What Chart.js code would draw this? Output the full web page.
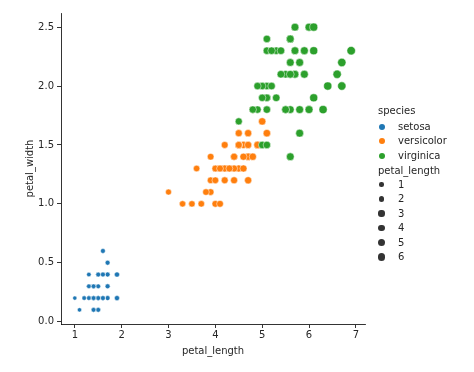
<!DOCTYPE html>
<html>
<head>
<meta charset="utf-8">
<script src="https://cdn.jsdelivr.net/npm/chart.js@4/dist/chart.umd.min.js"></script>
<style>
    body { margin: 0; background: #fff; }
    #wrap { position: relative; width: 474px; height: 372px; font-family: 'DejaVu Sans', sans-serif; font-size: 10px; color: #262626; }
    #legend { position: absolute; left: 0; top: 0; }
    .item { position: absolute; height: 12px; line-height: 12px; white-space: nowrap; }
    .dot { position: absolute; border-radius: 50%; }
</style>
</head>
<body>
<div id="wrap">
    <canvas id="chart" width="474" height="372"></canvas>
    <div id="legend"></div>
</div>
<script>
const setosaLength = [1.4, 1.4, 1.3, 1.5, 1.4, 1.7, 1.4, 1.5, 1.4, 1.5, 1.5, 1.6, 1.4, 1.1, 1.2, 1.5, 1.3, 1.4, 1.7, 1.5,
    1.7, 1.5, 1.0, 1.7, 1.9, 1.6, 1.6, 1.5, 1.4, 1.6, 1.6, 1.5, 1.5, 1.4, 1.5, 1.2, 1.3, 1.4, 1.3, 1.5,
    1.3, 1.3, 1.3, 1.6, 1.9, 1.4, 1.6, 1.4, 1.5, 1.4];
const setosaWidth = [0.2, 0.2, 0.2, 0.2, 0.2, 0.4, 0.3, 0.2, 0.2, 0.1, 0.2, 0.2, 0.1, 0.1, 0.2, 0.4, 0.4, 0.3, 0.3, 0.3,
    0.2, 0.4, 0.2, 0.5, 0.2, 0.2, 0.4, 0.2, 0.2, 0.2, 0.2, 0.4, 0.1, 0.2, 0.2, 0.2, 0.2, 0.1, 0.2, 0.2,
    0.3, 0.3, 0.2, 0.6, 0.4, 0.3, 0.2, 0.2, 0.2, 0.2];
const versicolorLength = [4.7, 4.5, 4.9, 4.0, 4.6, 4.5, 4.7, 3.3, 4.6, 3.9, 3.5, 4.2, 4.0, 4.7, 3.6, 4.4, 4.5, 4.1, 4.5, 3.9,
    4.8, 4.0, 4.9, 4.7, 4.3, 4.4, 4.8, 5.0, 4.5, 3.5, 3.8, 3.7, 3.9, 5.1, 4.5, 4.5, 4.7, 4.4, 4.1, 4.0,
    4.4, 4.6, 4.0, 3.3, 4.2, 4.2, 4.2, 4.3, 3.0, 4.1];
const versicolorWidth = [1.4, 1.5, 1.5, 1.3, 1.5, 1.3, 1.6, 1.0, 1.3, 1.4, 1.0, 1.5, 1.0, 1.4, 1.3, 1.4, 1.5, 1.0, 1.5, 1.1,
    1.8, 1.3, 1.5, 1.2, 1.3, 1.4, 1.4, 1.7, 1.5, 1.0, 1.1, 1.0, 1.2, 1.6, 1.5, 1.6, 1.5, 1.3, 1.3, 1.3,
    1.2, 1.4, 1.2, 1.0, 1.3, 1.2, 1.3, 1.3, 1.1, 1.3];
const virginicaLength = [6.0, 5.1, 5.9, 5.6, 5.8, 6.6, 4.5, 6.3, 5.8, 6.1, 5.1, 5.3, 5.5, 5.0, 5.1, 5.3, 5.5, 6.7, 6.9, 5.0,
    5.7, 4.9, 6.7, 4.9, 5.7, 6.0, 4.8, 4.9, 5.6, 5.8, 6.1, 6.4, 5.6, 5.1, 5.6, 6.1, 5.6, 5.5, 4.8, 5.4,
    5.6, 5.1, 5.1, 5.9, 5.7, 5.2, 5.0, 5.2, 5.4, 5.1];
const virginicaWidth = [2.5, 1.9, 2.1, 1.8, 2.2, 2.1, 1.7, 1.8, 1.8, 2.5, 2.0, 1.9, 2.1, 2.0, 2.4, 2.3, 1.8, 2.2, 2.3, 1.5,
    2.3, 2.0, 2.0, 1.8, 2.1, 1.8, 1.8, 1.8, 2.1, 1.6, 1.9, 2.0, 2.2, 1.5, 1.4, 2.3, 2.4, 1.8, 1.8, 2.1,
    2.4, 2.3, 1.9, 2.3, 2.5, 2.3, 1.9, 2.0, 2.3, 1.8];

const species = ['setosa', 'versicolor', 'virginica'];
const speciesColors = ['#1f77b4', '#ff7f0e', '#2ca02c'];
const sizeLegend = [1, 2, 3, 4, 5, 6];
const xTicks = [1, 2, 3, 4, 5, 6, 7];
const yTicks = [0, 0.5, 1.0, 1.5, 2.0, 2.5];

// seaborn style size mapping: area 18..72 pt^2 over the petal_length range
const minLen = 1.0, maxLen = 6.9;
function radiusFor(v) {
    let area = 18 + (v - minLen) / (maxLen - minLen) * 54;
    return Math.sqrt(area) / 2;
}

function points(xs, ys) {
    return xs.map((x, i) => ({ x: x, y: ys[i] }));
}

const allData = [
    points(setosaLength, setosaWidth),
    points(versicolorLength, versicolorWidth),
    points(virginicaLength, virginicaWidth),
];

let datasets = species.map((name, i) => ({
    label: name,
    data: allData[i],
    backgroundColor: speciesColors[i],
    borderColor: '#ffffff',
    borderWidth: 0.5,
    pointRadius: ctx => radiusFor(ctx.raw.x),
    pointHoverRadius: ctx => radiusFor(ctx.raw.x),
    order: 2 - i,
}));

const font = { family: "'DejaVu Sans', sans-serif", size: 10 };

let ctx = document.getElementById('chart').getContext('2d');
let chart = new Chart(ctx, {
    type: 'scatter',
    data: { datasets: datasets },
    options: {
        responsive: false,
        animation: false,
        layout: { padding: { top: 13, right: 109, left: 0, bottom: 0 } },
        plugins: { legend: { display: false }, tooltip: { enabled: false } },
        scales: {
            x: {
                type: 'linear',
                min: 0.705,
                max: 7.195,
                afterBuildTicks: s => { s.ticks = xTicks.map(v => ({ value: v })); },
                afterFit: s => { s.height = 48; },
                grid: { drawOnChartArea: false, tickLength: 4, color: '#000', lineWidth: 0.8 },
                border: { color: '#000', width: 0.8 },
                ticks: { font: font, color: '#262626', padding: 1, maxRotation: 0, callback: v => String(v) },
                title: { display: true, text: 'petal_length', font: font, color: '#262626', padding: { top: 0, bottom: 15 } },
            },
            y: {
                type: 'linear',
                min: -0.02,
                max: 2.62,
                afterBuildTicks: s => { s.ticks = yTicks.map(v => ({ value: v })); },
                afterFit: s => { s.width = 61; },
                grid: { drawOnChartArea: false, tickLength: 4, color: '#000', lineWidth: 0.8 },
                border: { color: '#000', width: 0.8 },
                ticks: { font: font, color: '#262626', padding: 3, callback: v => v.toFixed(1) },
                title: { display: true, text: 'petal_width', font: font, color: '#262626', padding: { top: 24, bottom: 0 } },
            },
        },
    },
});

// legend built as html next to the plot
let legend = document.getElementById('legend');
function addText(text, left, centerY) {
    let el = document.createElement('div');
    el.className = 'item';
    el.style.left = left + 'px';
    el.style.top = (centerY - 6) + 'px';
    el.textContent = text;
    legend.appendChild(el);
}
function addDot(color, r, cx, cy) {
    let el = document.createElement('div');
    el.className = 'dot';
    el.style.background = color;
    el.style.width = (2 * r) + 'px';
    el.style.height = (2 * r) + 'px';
    el.style.left = (cx - r) + 'px';
    el.style.top = (cy - r) + 'px';
    legend.appendChild(el);
}

addText('species', 378, 110.5);
species.forEach((name, i) => {
    let y = 126.5 + i * 14.5;
    addDot(speciesColors[i], 3, 381.5, y);
    addText(name, 398, y);
});
addText('petal_length', 378, 170.5);
sizeLegend.forEach((v, i) => {
    let y = 184.5 + i * 14.5;
    addDot('#333333', radiusFor(v), 381.5, y);
    addText(String(v), 398, y);
});
</script>
</body>
</html>
